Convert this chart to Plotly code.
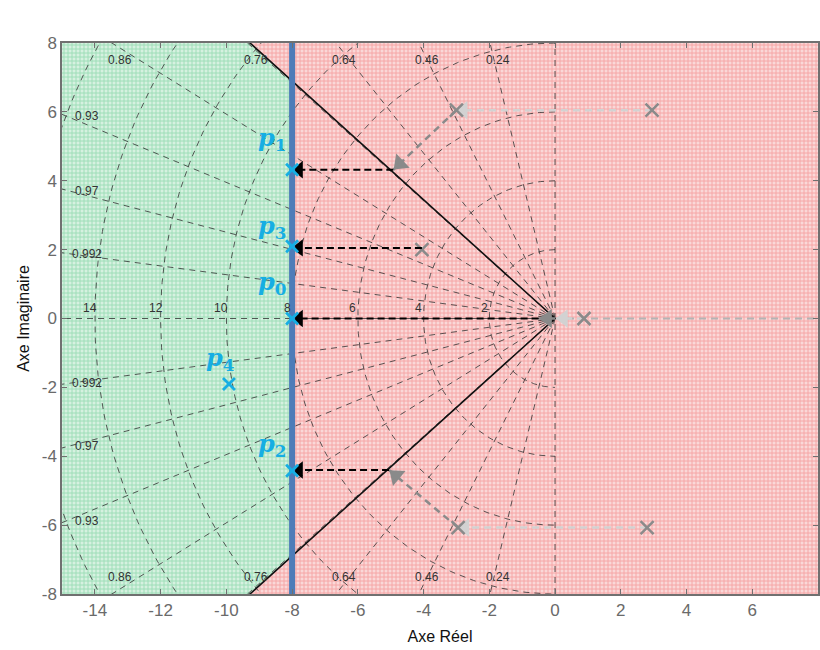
import numpy as np
import plotly.graph_objects as go

# ---------------- data ----------------
zeta_vals = [0.24, 0.46, 0.64, 0.76, 0.86, 0.93, 0.97, 0.992]
zeta_top_labels = [0.86, 0.76, 0.64, 0.46, 0.24]
zeta_side_labels = [0.93, 0.97, 0.992]
wn_vals = [2, 4, 6, 8, 10, 12, 14, 16]
wn_labels = [14, 12, 10, 8, 6, 4, 2]

pc_x = -8.0            # constraint line P_c
cone_slope = 0.862     # black boundary lines |y| = slope * |x|

# grey (initial / intermediate) poles
grey_x = [-3.0, 2.95, -4.05, 0.88, 2.8, -2.95]
grey_y = [6.05, 6.05, 2.0, 0.0, -6.07, -6.07]

# stage 1 moves (light grey)
s1_start_x = [2.95, 0.88, 2.8]
s1_start_y = [6.05, 0.0, -6.07]
s1_end_x = [-3.0, 0.05, -2.95]
s1_end_y = [6.05, 0.0, -6.07]

# stage 2 moves (dark grey)
s2_start_x = [-3.0, 0.0, -2.95]
s2_start_y = [6.05, 0.0, -6.07]
s2_end_x = [-4.92, -0.5, -5.05]
s2_end_y = [4.32, 0.0, -4.40]

# stage 3 moves (black) towards P_c
s3_start_x = [-4.92, -4.05, -0.5, -5.05]
s3_start_y = [4.32, 2.05, 0.0, -4.40]
s3_end_x = [-8.0, -8.0, -8.0, -8.0]
s3_end_y = [4.32, 2.05, 0.0, -4.40]

# final poles
final_names = ["1", "3", "0", "2", "4"]
final_x = [-8.0, -8.0, -8.0, -8.0, -9.92]
final_y = [4.32, 2.10, 0.0, -4.42, -1.90]
label_x = [-8.62, -8.62, -8.62, -8.62, -10.18]
label_y = [5.2, 2.66, 1.02, -3.68, -1.18]

x_range = [-15, 8]
y_range = [-8, 8]
x_ticks = list(range(-14, 9, 2))
y_ticks = list(range(-8, 9, 2))

# ---------------- figure ----------------
W, H = 820, 650
ml, mr, mt, mb = 62, 0, 43, 56
sx = (W - ml - mr) / (x_range[1] - x_range[0])
sy = (H - mt - mb) / (y_range[1] - y_range[0])

fig = go.Figure()

# background regions
fig.add_trace(go.Scatter(
    x=[x_range[0], x_range[1], x_range[1], x_range[0], x_range[0]],
    y=[y_range[0], y_range[0], y_range[1], y_range[1], y_range[0]],
    mode="lines", fill="toself", line=dict(width=0),
    fillcolor="#f7c0c0",
    fillpattern=dict(shape="+", fgcolor="#f06a6a", bgcolor="#fad8d8", size=4, solidity=0.4),
    hoverinfo="skip", showlegend=False))

xc = y_range[1] / cone_slope
gx = [x_range[0], -xc, pc_x, pc_x, -xc, x_range[0], x_range[0]]
gy = [y_range[1], y_range[1], -pc_x * cone_slope, pc_x * cone_slope, y_range[0], y_range[0], y_range[1]]
fig.add_trace(go.Scatter(
    x=gx, y=gy, mode="lines", fill="toself", line=dict(width=0),
    fillcolor="#b8e4c8",
    fillpattern=dict(shape="+", fgcolor="#5cc78a", bgcolor="#d6f1e0", size=4, solidity=0.4),
    hoverinfo="skip", showlegend=False))

grid_line = dict(color="rgba(50,50,50,0.8)", width=1, dash="6px,5px")

# damping rays
for z in zeta_vals:
    s = np.sqrt(1 - z * z)
    for sg in (1, -1):
        fig.add_trace(go.Scatter(x=[0, -30 * z], y=[0, sg * 30 * s], mode="lines",
                                 line=grid_line, hoverinfo="skip", showlegend=False))
# zeta = 1 and zeta = 0
fig.add_trace(go.Scatter(x=[0, x_range[0]], y=[0, 0], mode="lines", line=grid_line,
                         hoverinfo="skip", showlegend=False))
fig.add_trace(go.Scatter(x=[0, 0], y=[y_range[0], y_range[1]], mode="lines", line=grid_line,
                         hoverinfo="skip", showlegend=False))
# natural frequency semicircles
phi = np.linspace(np.pi / 2, 3 * np.pi / 2, 200)
for w in wn_vals:
    fig.add_trace(go.Scatter(x=w * np.cos(phi), y=w * np.sin(phi), mode="lines",
                             line=grid_line, hoverinfo="skip", showlegend=False))

# grid labels
lab_font = dict(family="Liberation Sans", size=12, color="#333333")
tx, ty, tt = [], [], []
for z in zeta_top_labels:
    k = np.sqrt(1 - z * z) / z
    for sg in (1, -1):
        tx.append(-y_range[1] / k + 0.25)
        ty.append(sg * 7.52)
        tt.append(f"{z:g}")
for z in zeta_side_labels:
    k = np.sqrt(1 - z * z) / z
    for sg in (1, -1):
        tx.append(x_range[0] + 0.75)
        ty.append(sg * (-x_range[0] * k - 0.05))
        tt.append(f"{z:g}")
for w in wn_labels:
    tx.append(-w - 0.15)
    ty.append(0.3)
    tt.append(str(w))
for a, b, t in zip(tx, ty, tt):
    fig.add_annotation(x=a, y=b, text=t, showarrow=False, font=lab_font)

# light grey positive real-axis path
fig.add_trace(go.Scatter(x=[0, x_range[1]], y=[0, 0], mode="lines",
                         line=dict(color="#b4b4b4", width=2.2, dash="7px,5px"),
                         hoverinfo="skip", showlegend=False))

# black boundary lines
fig.add_trace(go.Scatter(x=[-xc * 1.2, 0, -xc * 1.2],
                         y=[y_range[1] * 1.2, 0, y_range[0] * 1.2], mode="lines",
                         line=dict(color="#111111", width=1.6), hoverinfo="skip", showlegend=False))


def head_pos(x0, y0, x1, y1, back_px):
    dxp = (x1 - x0) * sx
    dyp = -(y1 - y0) * sy
    L = np.hypot(dxp, dyp)
    ux, uy = dxp / L, dyp / L
    hx = x1 - ux * back_px / sx
    hy = y1 + uy * back_px / sy
    ang = np.degrees(np.arctan2(ux, -uy))
    return hx, hy, ang


def arrows(xs0, ys0, xs1, ys1, color, width, dash, head_size, back_px):
    hx, hy, ha = [], [], []
    for a, b, c, d in zip(xs0, ys0, xs1, ys1):
        fig.add_trace(go.Scatter(x=[a, c], y=[b, d], mode="lines",
                                 line=dict(color=color, width=width, dash=dash),
                                 hoverinfo="skip", showlegend=False))
        h = head_pos(a, b, c, d, back_px)
        hx.append(h[0]); hy.append(h[1]); ha.append(h[2])
    fig.add_trace(go.Scatter(x=hx, y=hy, mode="markers",
                             marker=dict(symbol="triangle-up", size=head_size, color=color,
                                         angle=ha, line=dict(width=0)),
                             hoverinfo="skip", showlegend=False))


arrows(s1_start_x, s1_start_y, s1_end_x, s1_end_y, "#d2d2d2", 2.5, "7px,5px", 16, 7)
arrows(s2_start_x, s2_start_y, s2_end_x, s2_end_y, "#8a8a8a", 2.5, "7px,5px", 17, 9)

# grey poles
fig.add_trace(go.Scatter(x=grey_x, y=grey_y, mode="markers",
                         marker=dict(symbol="x-thin", size=13, line=dict(color="#8a8a8a", width=2.5)),
                         hoverinfo="skip", showlegend=False))

arrows(s3_start_x, s3_start_y, s3_end_x, s3_end_y, "#000000", 2, "7px,4px", 15, 7)

# P_c line (in plot area)
fig.add_trace(go.Scatter(x=[pc_x, pc_x], y=[y_range[0], y_range[1]], mode="lines",
                         line=dict(color="#4d7cb8", width=6), hoverinfo="skip", showlegend=False))
fig.add_shape(type="line", x0=pc_x, x1=pc_x, y0=y_range[1], y1=y_range[1] + 0.13,
              line=dict(color="#4d7cb8", width=6), layer="above")

# final poles
fig.add_trace(go.Scatter(x=final_x, y=final_y, mode="markers",
                         marker=dict(symbol="x-thin", size=12, line=dict(color="#16aee3", width=2.8)),
                         hoverinfo="skip", showlegend=False))
for n, lx, ly in zip(final_names, label_x, label_y):
    fig.add_annotation(x=lx, y=ly, text=f"<b><i>p</i></b><sub><b>{n}</b></sub>",
                       showarrow=False, font=dict(family="DejaVu Serif", size=24, color="#16aee3"))
fig.add_annotation(x=pc_x + 0.25, y=8.72, text="<b><i>P</i></b><sub><b><i>c</i></b></sub>",
                   showarrow=False, font=dict(family="DejaVu Serif", size=25, color="#2a7cc4"))

axis_common = dict(showline=True, linecolor="#707070", linewidth=1.5, mirror="ticks",
                   ticks="inside", ticklen=5, tickcolor="#707070", showgrid=False, zeroline=False,
                   tickfont=dict(family="Liberation Sans", size=17, color="#6a6a6a"))
fig.update_layout(
    width=W, height=H,
    margin=dict(l=ml, r=mr, t=mt, b=mb),
    paper_bgcolor="white", plot_bgcolor="white",
    xaxis=dict(range=x_range, tickvals=x_ticks, ticktext=[str(v) for v in x_ticks],
               title=dict(text="Axe Réel", font=dict(family="Liberation Sans", size=16, color="#111"),
                          standoff=12), **axis_common),
    yaxis=dict(range=y_range, tickvals=y_ticks, ticktext=[str(v) for v in y_ticks],
               title=dict(text="Axe Imaginaire", font=dict(family="Liberation Sans", size=16, color="#111"),
                          standoff=8), **axis_common),
)

fig.write_html("out.html")
